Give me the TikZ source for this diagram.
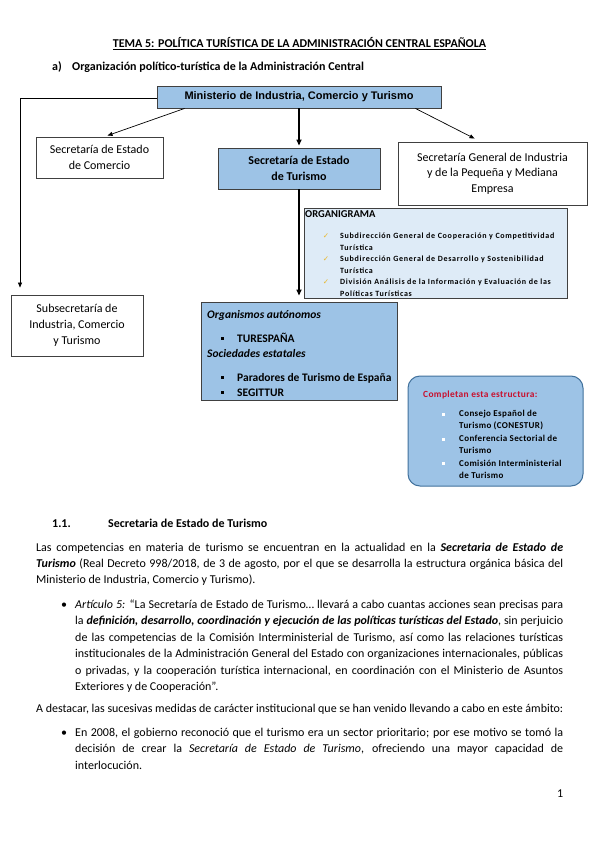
\documentclass[tikz,border=0pt]{standalone}
\usepackage{fontspec}
\setmainfont{Carlito}
\newfontfamily\arialfont{Liberation Sans}
\newfontfamily\symfont{DejaVu Sans}
\newfontfamily\spacedfont[LetterSpace=4]{Carlito}
\newfontfamily\widefont[LetterSpace=9]{Carlito}
\usetikzlibrary{arrows.meta}
\definecolor{midblue}{HTML}{9DC3E6}
\definecolor{lightblue}{HTML}{DEEBF7}
\definecolor{checkgold}{HTML}{E8B830}
\definecolor{compborder}{HTML}{41719C}
\definecolor{compred}{HTML}{C8102E}
\tikzset{
  box/.style={draw=black!75, line width=0.9pt, inner sep=0pt, align=center, font=\fontsize{12}{16}\selectfont},
  arr/.style={-{Triangle[length=5pt,width=4pt]}, line width=0.7pt},
  thickarr/.style={-{Triangle[length=6pt,width=5pt]}, line width=1.6pt},
  txt/.style={inner sep=0pt, anchor=north west},
  bl/.style={inner sep=0pt, anchor=base west},
  orgitem/.style={bl, font=\widefont\bfseries\fontsize{8}{9}\selectfont},
  compitem/.style={bl, font=\spacedfont\bfseries\fontsize{9}{10}\selectfont},
  orgmain/.style={bl, font=\bfseries\fontsize{11.5}{13}\selectfont},
  sq/.style={inner sep=0pt, minimum size=3pt, fill=black},
  wsq/.style={inner sep=0pt, minimum size=3pt, fill=white},
}
\begin{document}
\begin{tikzpicture}[x=1pt,y=-1pt]
\path[use as bounding box, fill=white] (0,0) rectangle (599,848);

% ---- headings
\node[inner sep=0pt, anchor=base, font=\bfseries\fontsize{12}{14}\selectfont] (title) at (299.5,48) {\underline{TEMA 5: POLÍTICA TURÍSTICA DE LA ADMINISTRACIÓN CENTRAL ESPAÑOLA}};
\node[bl, font=\bfseries\fontsize{12}{14}\selectfont] (sa) at (52,71) {a)};
\node[bl, font=\bfseries\fontsize{12}{14}\selectfont] (sa2) at (72,71) {Organización político-turística de la Administración Central};

% ---- diagram boxes
\node[box, fill=midblue, minimum width=284pt, minimum height=22pt, font=\arialfont\bfseries\fontsize{11}{12}\selectfont] (min) at (299,97) {Ministerio de Industria, Comercio y Turismo};
\node[box, minimum width=127pt, minimum height=41pt] (com) at (99.5,157.5) {Secretaría de Estado\\de Comercio};
\node[box, fill=midblue, minimum width=162pt, minimum height=41pt, font=\bfseries\fontsize{12}{16}\selectfont] (tur) at (299,168.5) {Secretaría de Estado\\de Turismo};
\node[box, minimum width=189pt, minimum height=63pt, font=\fontsize{12}{15.5}\selectfont] (ind) at (492.5,173.5) {Secretaría General de Industria\\y de la Pequeña y Mediana\\Empresa};
\node[box, minimum width=132pt, minimum height=61pt] (sub) at (77,325.5) {Subsecretaría de\\Industria, Comercio\\y Turismo};

% organigrama
\node[box, fill=lightblue, minimum width=263pt, minimum height=90pt] (orgbox) at (435.5,253) {};
\node[inner sep=0pt, anchor=west, font=\bfseries\fontsize{10.5}{12}\selectfont] (orgt) at (305,214) {ORGANIGRAMA};
\node[orgitem] (o1) at (340,238.5) {Subdirección General de Cooperación y Competitividad};
\node[orgitem] (o2) at (340,250.1) {Turística};
\node[orgitem] (o3) at (340,261.7) {Subdirección General de Desarrollo y Sostenibilidad};
\node[orgitem] (o4) at (340,273.3) {Turística};
\node[orgitem] (o5) at (340,284.9) {División Análisis de la Información y Evaluación de las};
\node[orgitem] (o6) at (340,296.5) {Políticas Turísticas};
\node[inner sep=0pt, anchor=base, text=checkgold, font=\symfont\fontsize{7.5}{8}\selectfont] (k1) at (326,238.5) {✓};
\node[inner sep=0pt, anchor=base, text=checkgold, font=\symfont\fontsize{7.5}{8}\selectfont] (k2) at (326,261.7) {✓};
\node[inner sep=0pt, anchor=base, text=checkgold, font=\symfont\fontsize{7.5}{8}\selectfont] (k3) at (326,284.9) {✓};

% organismos
\node[box, fill=midblue, minimum width=196pt, minimum height=98pt] (org) at (299,351) {};
\node[orgmain] (g1) at (207,318) {\textit{Organismos autónomos}};
\node[sq] (b1) at (222,338) {};
\node[orgmain] (g2) at (237,342) {TURESPAÑA};
\node[orgmain] (g3) at (207,357) {\textit{Sociedades estatales}};
\node[sq] (b2) at (222,377) {};
\node[orgmain] (g4) at (237,381) {Paradores de Turismo de España};
\node[sq] (b3) at (222,392) {};
\node[orgmain] (g5) at (237,396) {SEGITTUR};

% completan
\node[draw=compborder, line width=1pt, fill=midblue, rounded corners=12pt, minimum width=175pt, minimum height=110pt, inner sep=0pt] (comp) at (495.5,431) {};
\node[bl, text=compred, font=\spacedfont\bfseries\fontsize{9.4}{10}\selectfont] (ct) at (423,397) {Completan esta estructura:};
\node[wsq] (w1) at (443,414) {};
\node[wsq] (w2) at (443,439) {};
\node[wsq] (w3) at (443,463) {};
\node[compitem] (c1t) at (459,416.5) {Consejo Español de};
\node[compitem] (c2t) at (459,428.9) {Turismo (CONESTUR)};
\node[compitem] (c3t) at (459,441.3) {Conferencia Sectorial de};
\node[compitem] (c4t) at (459,453.7) {Turismo};
\node[compitem] (c5t) at (459,466.1) {Comisión Interministerial};
\node[compitem] (c6t) at (459,478.5) {de Turismo};

% ---- connectors
\coordinate (cl) at (20,98);
\draw[arr] (min.west |- cl) -- (cl) -- ([yshift=7pt]cl |- sub.north);
\draw[arr] ([xshift=28pt]min.south west) -- ([xshift=72pt,yshift=1pt]com.north west);
\draw[thickarr, shorten >=2pt] (min.south) -- (tur.north);
\draw[arr] ([xshift=-26pt]min.south east) -- ([xshift=77pt,yshift=3pt]ind.north west);
\draw[thickarr] (tur.south) -- ([yshift=6pt]org.north);

% ---- body text
\node[bl, font=\bfseries\fontsize{12}{14}\selectfont] (s1) at (52,527) {1.1.};
\node[bl, font=\bfseries\fontsize{12}{14}\selectfont] (s2) at (108,527) {Secretaria de Estado de Turismo};

\node[txt, text width=527pt, align=justify, font=\fontsize{12}{16}\selectfont] (p1) at (36,539.8) {\strut Las competencias en materia de turismo se encuentran en la actualidad en la \textbf{\textit{Secretaria de Estado de}}\linebreak \textbf{\textit{Turismo}} (Real Decreto 998/2018, de 3 de agosto, por el que se desarrolla la estructura orgánica básica del\linebreak Ministerio de Industria, Comercio y Turismo).};

\node[bl, font=\fontsize{12}{14}\selectfont] (d1) at (61,608) {•};
\node[txt, text width=488pt, align=justify, font=\fontsize{12}{16.5}\selectfont] (p2) at (75,596.45) {\strut\textit{Artículo 5:} “La Secretaría de Estado de Turismo… llevará a cabo cuantas acciones sean precisas para\linebreak la \textbf{\textit{definición, desarrollo, coordinación y ejecución de las políticas turísticas del Estado}}, sin perjuicio\linebreak de las competencias de la Comisión Interministerial de Turismo, así como las relaciones turísticas\linebreak institucionales de la Administración General del Estado con organizaciones internacionales, públicas\linebreak o privadas, y la cooperación turística internacional, en coordinación con el Ministerio de Asuntos\linebreak Exteriores y de Cooperación”.};

\node[bl, font=\fontsize{12}{14}\selectfont] (p3) at (36,712) {\resizebox{527pt}{!}{A destacar, las sucesivas medidas de carácter institucional que se han venido llevando a cabo en este ámbito:}};

\node[bl, font=\fontsize{12}{14}\selectfont] (d2) at (61,736) {•};
\node[txt, text width=488pt, align=justify, font=\fontsize{12}{16.5}\selectfont] (p4) at (75,724.45) {\strut En 2008, el gobierno reconoció que el turismo era un sector prioritario; por ese motivo se tomó la\linebreak decisión de crear la \textit{Secretaría de Estado de Turismo}, ofreciendo una mayor capacidad de\linebreak interlocución.};

\node[bl, font=\fontsize{12}{14}\selectfont] (pn) at (557,797) {1};
\end{tikzpicture}
\end{document}
